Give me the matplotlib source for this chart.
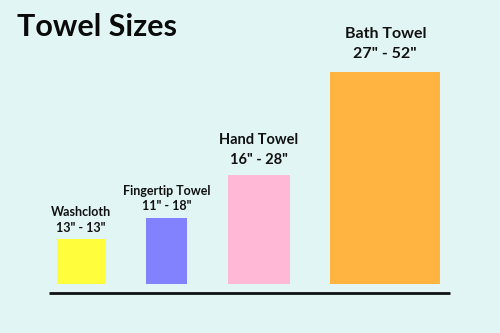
import matplotlib
matplotlib.use("Agg")
import matplotlib.pyplot as plt
from matplotlib.patches import Rectangle

# towel sizes, inches (width, length)
names = ["Washcloth", "Fingertip Towel", "Hand Towel", "Bath Towel"]
widths = [13, 11, 16, 27]
lengths = [13, 18, 28, 52]
colors = ["#FFFD3C", "#8282FF", "#FFB8D5", "#FFB442"]

# label styling per bar
label_sizes = [9, 9, 10.5, 11.5]
dim_pads = [5.1, 5.9, 8.2, 10.2]     # points above bar top
name_pads = [16.6, 16.2, 22.6, 24.3]

bg = "#E1F6F4"
px = 4.3          # pixels per inch of towel
x0, y0 = 49, 293  # baseline start (pixels)
start, gap = 1.0, 7.9       # inches
inset_w, inset_h, lift = 1.5, 2.65, 2.1

plt.rcParams["font.family"] = ["Lato", "DejaVu Sans"]

fig = plt.figure(figsize=(5, 3.33), dpi=100, facecolor=bg)
ax = fig.add_axes([0, 0, 1, 1])
ax.set_facecolor(bg)
ax.set_xlim(-x0 / px, (500 - x0) / px)
ax.set_ylim(-(333 - y0) / px, y0 / px)
ax.axis("off")

left = start
for name, w, l, c, fs, dp, npad in zip(names, widths, lengths, colors,
                                       label_sizes, dim_pads, name_pads):
    cx = left + w / 2
    bw, bh = w - inset_w, l - inset_h
    ax.add_patch(Rectangle((cx - bw / 2, lift), bw, bh, facecolor=c,
                           edgecolor="none"))
    top = lift + bh
    ax.annotate(f'{w}" - {l}"', (cx, top), xytext=(0, dp),
                textcoords="offset points", ha="center", va="baseline",
                fontsize=fs, fontweight="bold", color="#111111")
    ax.annotate(name, (cx, top), xytext=(0, npad),
                textcoords="offset points", ha="center", va="baseline",
                fontsize=fs, fontweight="bold", color="#111111")
    left += w + gap

ax.plot([0, (450 - x0) / px], [0, 0], color="#111111", lw=2,
        solid_capstyle="butt")

fig.text(17 / 500, 1 - 36 / 333, "Towel Sizes", fontsize=22,
         fontweight="bold", color="#0a0a0a", va="baseline", ha="left")

fig.savefig("out.png", dpi=100, facecolor=bg)
